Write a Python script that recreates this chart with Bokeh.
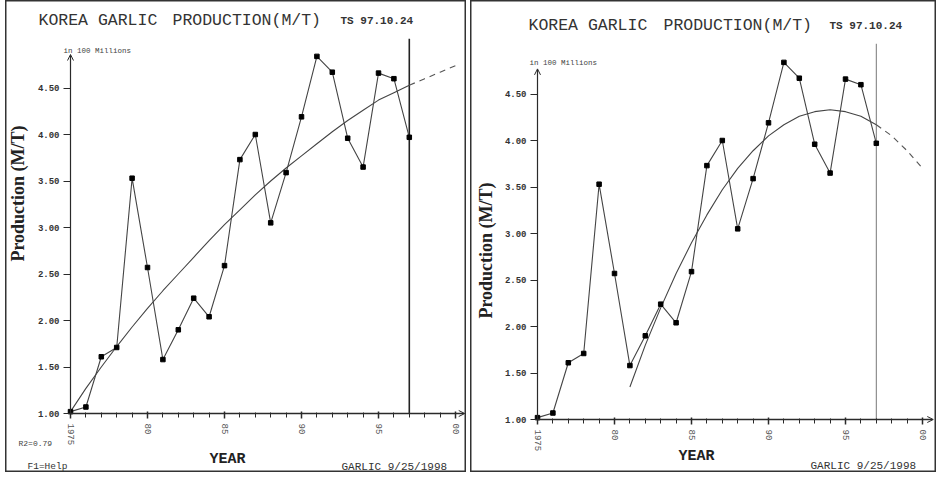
from math import pi
from bokeh.plotting import figure
from bokeh.models import (Range1d, FixedTicker, PrintfTickFormatter, Label, Arrow,
                          OpenHead, Spacer)
from bokeh.layouts import row
from bokeh.embed import file_html
from bokeh.resources import INLINE

# ---------------- data ----------------
years = list(range(1975, 1998))
production = [1.02, 1.07, 1.61, 1.71, 3.53, 2.57, 1.58, 1.90, 2.24, 2.04, 2.59,
              3.73, 4.00, 3.05, 3.59, 4.19, 4.84, 4.67, 3.96, 3.65, 4.66, 4.60, 3.97]

left_trend_years = list(range(1975, 2001))
left_trend = [1.02, 1.27, 1.50, 1.72, 1.93, 2.13, 2.32, 2.50, 2.68, 2.86, 3.03,
              3.19, 3.35, 3.50, 3.64, 3.77, 3.90, 4.03, 4.15, 4.26, 4.37, 4.45,
              4.53, 4.60, 4.67, 4.74]

right_trend_years = list(range(1981, 2001))
right_trend = [1.35, 1.80, 2.20, 2.57, 2.90, 3.20, 3.47, 3.70, 3.89, 4.05, 4.17,
               4.26, 4.31, 4.33, 4.31, 4.26, 4.17, 4.05, 3.89, 3.70]

forecast_start = 1997
x_ticks = [1975, 1980, 1985, 1990, 1995, 2000]
x_tick_labels = ["1975", "80", "85", "90", "95", "00"]
x_minor_ticks = list(range(1975, 2001))
y_ticks = [1.0, 1.5, 2.0, 2.5, 3.0, 3.5, 4.0, 4.5]

title_left = "KOREA GARLIC"
title_right = "PRODUCTION(M/T)"
title_ts = "TS 97.10.24"
unit_text = "in 100 Millions"
y_title = "Production (M/T)"
x_title = "YEAR"
r2_text = "R2=0.79"
help_text = "F1=Help"
footer_text = "GARLIC 9/25/1998"

MONO = "Liberation Mono"
SERIF = "Liberation Serif"
INK = "#2a2a2a"
PX_PER_YEAR = 15.4
PX_PER_UNIT = 93.0
H = 472


def make_panel(W, ax_x, ax_y, t_years, t_vals, arrow_top, arrow_right,
               vline_top, vline_width, vline_color, texts):
    # frame covers the whole canvas; axes are pinned at 1975 / 1.00
    x0 = 1975 - ax_x / PX_PER_YEAR
    x1 = x0 + W / PX_PER_YEAR
    y1 = 1.0 + ax_y / PX_PER_UNIT
    y0 = y1 - H / PX_PER_UNIT
    p = figure(width=W, height=H, title=None,
               x_range=Range1d(x0, x1), y_range=Range1d(y0, y1),
               output_backend="svg", toolbar_location=None,
               min_border_left=0, min_border_right=0,
               min_border_top=0, min_border_bottom=0)
    p.xgrid.visible = False
    p.ygrid.visible = False
    p.outline_line_color = "#333"
    p.outline_line_width = 2
    p.background_fill_color = "white"
    p.border_fill_color = "white"

    xa = p.xaxis[0]
    xa.fixed_location = 1.0
    xa.ticker = FixedTicker(ticks=x_ticks, minor_ticks=x_minor_ticks)
    xa.major_label_overrides = dict(zip(x_ticks, x_tick_labels))
    xa.major_label_orientation = "vertical"
    xa.axis_line_color = None
    xa.major_tick_in = 2
    xa.major_tick_out = 5
    xa.minor_tick_in = 1
    xa.minor_tick_out = 4
    xa.major_tick_line_color = INK
    xa.minor_tick_line_color = INK
    xa.major_tick_line_width = 1.5
    xa.major_label_standoff = 5
    xa.major_label_text_font = MONO
    xa.major_label_text_font_size = "9px"
    xa.major_label_text_color = "#555"

    ya = p.yaxis[0]
    ya.fixed_location = 1975
    ya.ticker = FixedTicker(ticks=y_ticks)
    ya.formatter = PrintfTickFormatter(format="%.2f")
    ya.axis_line_color = None
    ya.major_tick_in = 0
    ya.major_tick_out = 7
    ya.minor_tick_line_color = None
    ya.major_tick_line_color = INK
    ya.major_label_standoff = 4
    ya.major_label_text_font = MONO
    ya.major_label_text_font_size = "9px"
    ya.major_label_text_font_style = "bold"
    ya.major_label_text_color = "#333"

    # axis lines with arrow heads
    p.add_layout(Arrow(end=OpenHead(size=6, line_color=INK, line_width=1),
                       x_start=1975, y_start=1.0, x_end=1975, y_end=arrow_top,
                       line_color=INK, line_width=1.2))
    p.add_layout(Arrow(end=OpenHead(size=6, line_color=INK, line_width=1),
                       x_start=1975, y_start=1.0, x_end=arrow_right, y_end=1.0,
                       line_color=INK, line_width=1.6))

    # forecast start marker
    p.segment(x0=[forecast_start], y0=[1.0], x1=[forecast_start], y1=[vline_top],
              line_color=vline_color, line_width=vline_width)

    # trend curve: solid fit, dashed forecast
    fit_x = [x for x in t_years if x <= forecast_start]
    fit_y = [v for x, v in zip(t_years, t_vals) if x <= forecast_start]
    fc_x = [x for x in t_years if x >= forecast_start]
    fc_y = [v for x, v in zip(t_years, t_vals) if x >= forecast_start]
    p.line(fit_x, fit_y, line_color="#444", line_width=1.1)
    p.line(fc_x, fc_y, line_color="#555", line_width=1.1, line_dash="6 5")

    # actual production
    p.line(years, production, line_color="#444", line_width=1.1)
    p.scatter(years, production, marker="square", size=4.5,
              fill_color="black", line_color="black")

    for (lx, ly, txt, size, font, style, align, angle, color) in texts:
        p.add_layout(Label(x=lx, y=H - ly, x_units="screen", y_units="screen",
                           text=txt, text_font=font, text_font_size=size,
                           text_font_style=style, text_align=align,
                           text_baseline="middle", angle=angle,
                           text_color=color))
    return p


left_texts = [
    (33, 20, title_left, "16.5px", MONO, "normal", "left", 0, "#333"),
    (167, 20, title_right, "16.5px", MONO, "normal", "left", 0, "#333"),
    (335, 20, title_ts, "11px", MONO, "bold", "left", 0, "#333"),
    (58, 50, unit_text, "7.5px", MONO, "normal", "left", 0, "#444"),
    (12, 193, y_title, "18px", SERIF, "bold", "center", pi / 2, "#222"),
    (222, 459, x_title, "15px", MONO, "bold", "center", 0, "#222"),
    (13, 443, r2_text, "8px", MONO, "normal", "left", 0, "#444"),
    (22, 466, help_text, "9.5px", MONO, "normal", "left", 0, "#333"),
    (336, 466, footer_text, "11px", MONO, "normal", "left", 0, "#333"),
]
right_texts = [
    (58, 25, title_left, "16.5px", MONO, "normal", "left", 0, "#333"),
    (193, 25, title_right, "16.5px", MONO, "normal", "left", 0, "#333"),
    (359, 25, title_ts, "11px", MONO, "bold", "left", 0, "#333"),
    (59, 62, unit_text, "7.5px", MONO, "normal", "left", 0, "#444"),
    (15, 250, y_title, "18px", SERIF, "bold", "center", pi / 2, "#222"),
    (226, 456, x_title, "15px", MONO, "bold", "center", 0, "#222"),
    (340, 465, footer_text, "11px", MONO, "normal", "left", 0, "#333"),
]

left = make_panel(461, 65, 413, left_trend_years, left_trend,
                  4.86, 2000.6, 5.03, 1.6, "#222", left_texts)
right = make_panel(466, 67, 419, right_trend_years, right_trend,
                   4.77, 2000.7, 5.04, 1, "#777", right_texts)

layout = row(Spacer(width=5), left, Spacer(width=4), right)
open("out.html", "w").write(file_html(layout, INLINE))
